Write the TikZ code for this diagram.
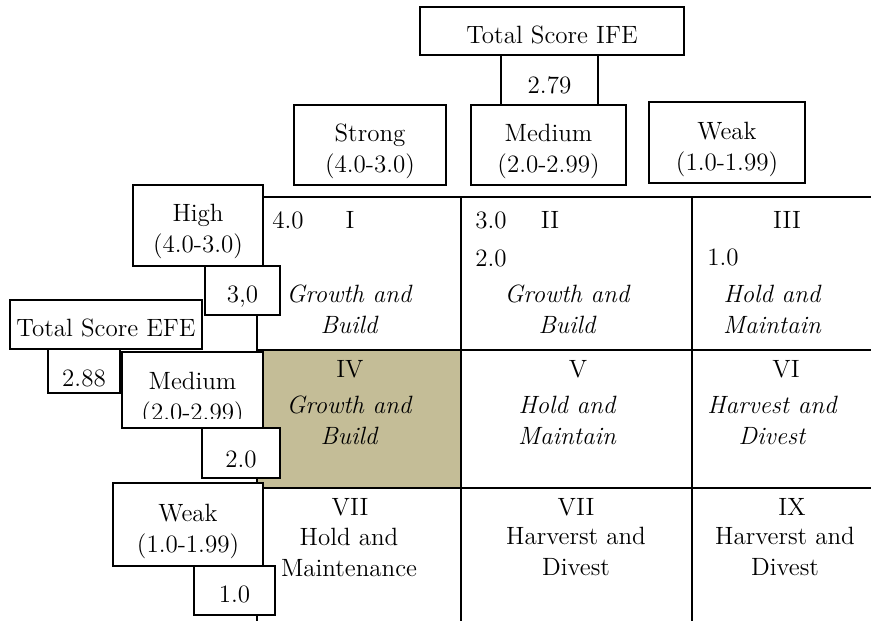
\documentclass[tikz,border=0pt]{standalone}
\usepackage{tikz}
\definecolor{cellshade}{RGB}{196,189,151}

\begin{document}
\begin{tikzpicture}[x=0.5pt, y=-0.5pt, font=\fontsize{12.5}{15.5}\selectfont,
	box/.style={draw, fill=white, line width=0.65pt, inner sep=0pt, align=center},
	boxb/.style={box, line width=1pt},
	gridline/.style={line width=1pt},
	cell/.style={anchor=base, inner sep=0pt, align=center},
	celli/.style={cell, font=\fontsize{12.5}{15.5}\selectfont\itshape}]
	\useasboundingbox (0,0) rectangle (871,621);
%	\draw [help lines] (0,0) grid [step=50] (871,621);
	% the nine cells
	\fill [cellshade] (257,350) rectangle (461,488);
	\draw [gridline] (257,197) -- (871,197) (257,350) -- (871,350) (257,488) -- (871,488);
	\draw [gridline] (257,197) -- (257,621) (461,197) -- (461,621) (692,197) -- (692,621);
	\node [cell, anchor=base west] (n40) at (272,228) {4.0};
	\node [cell] (rI) at (350,228) {I};
	\node [celli] (gI) at (349,333) {Growth and\\Build};
	\node [cell, anchor=base west] (n30) at (475,228) {3.0};
	\node [cell] (rII) at (550,228) {II};
	\node [cell, anchor=base west] (n20) at (475,266) {2.0};
	\node [celli] (gII) at (567,333) {Growth and\\Build};
	\node [cell] (rIII) at (787,228) {III};
	\node [cell, anchor=base west] (n10) at (707,265) {1.0};
	\node [celli] (gIII) at (772,333) {Hold and\\Maintain};
	\node [cell] (rIV) at (350,377) {IV};
	\node [celli] (gIV) at (349,444) {Growth and\\Build};
	\node [cell] (rV) at (578,377) {V};
	\node [celli] (gV) at (567,444) {Hold and\\Maintain};
	\node [cell] (rVI) at (786,377) {VI};
	\node [celli] (gVI) at (772,444) {Harvest and\\Divest};
	\node [cell] (rVII) at (350,515) {VII};
	\node [cell] (gVII) at (349,576) {Hold and\\Maintenance};
	\node [cell] (rVIII) at (576,515) {VII};
	\node [cell] (gVIII) at (576,575) {Harverst and\\Divest};
	\node [cell] (rIX) at (792,515) {IX};
	\node [cell] (gIX) at (785,575) {Harverst and\\Divest};
	% IFE scale on top
	\node [boxb, minimum width=132pt, minimum height=24pt, text height=18pt, text depth=6pt] (ife) at (552,31) {Total Score IFE};
	\node [boxb, minimum width=48.5pt, minimum height=25pt, text height=19pt, text depth=6pt] (ifeval) at (549.5,80) {2.79};
	\node [box, minimum width=76pt, minimum height=40pt, text height=33.5pt, text depth=6.5pt] (istrong) at (370,145) {Strong\\(4.0-3.0)};
	\node [box, minimum width=77.5pt, minimum height=40pt, text height=33.5pt, text depth=6.5pt] (imedium) at (548.5,145) {Medium\\(2.0-2.99)};
	\node [box, minimum width=78pt, minimum height=40.5pt, text height=34pt, text depth=6.5pt] (iweak) at (727,142.5) {Weak\\(1.0-1.99)};
	% EFE scale on the left
	\node [box, minimum width=65pt, minimum height=40.5pt, text height=33.5pt, text depth=7pt] (ehigh) at (198,225.5) {High\\(4.0-3.0)};
	\node [box, minimum width=37.5pt, minimum height=24.5pt, text height=18pt, text depth=6.5pt] (e30) at (242.5,290.5) {3,0};
	\node [boxb, minimum width=96pt, minimum height=24.5pt, text height=18pt, text depth=6.5pt] (efe) at (106,324.5) {Total Score EFE};
	\node [boxb, minimum width=36pt, minimum height=22pt, text height=18.5pt, text depth=3.5pt] (efeval) at (84,371) {2.88};
	\node [box, minimum width=70.5pt, minimum height=38pt] (emedium) at (192.5,390) {};
	\begin{scope}
		\clip (122,352) rectangle (263,418);
		\node [cell] (emediumtext) at (192.5,420) {Medium\\(2.0-2.99)};
	\end{scope}
	\node [box, minimum width=39pt, minimum height=25pt, text height=19.5pt, text depth=5.5pt] (e20) at (241,453) {2.0};
	\node [box, minimum width=75pt, minimum height=41.5pt, text height=34.5pt, text depth=7pt] (eweak) at (188,524.5) {Weak\\(1.0-1.99)};
	\node [box, minimum width=40.5pt, minimum height=24.5pt, text height=18pt, text depth=6.5pt] (e10) at (234.5,590.5) {1.0};
\end{tikzpicture}
\end{document}
